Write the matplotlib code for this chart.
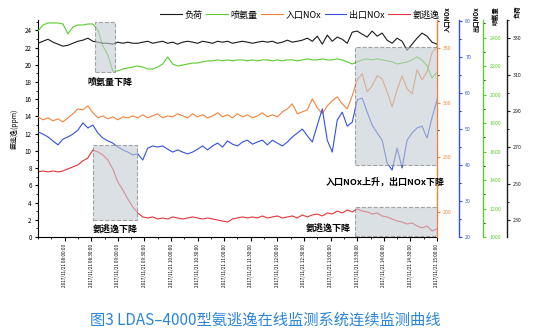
import numpy as np
import matplotlib
matplotlib.use('Agg')
import matplotlib.pyplot as plt
from matplotlib.patches import Rectangle
from matplotlib.ticker import MultipleLocator

plt.rcParams['font.family'] = ['Noto Sans CJK SC', 'DejaVu Sans']
plt.rcParams['axes.unicode_minus'] = False

# sampled every 0.1875 tick interval across 15 intervals
t = np.linspace(0, 15, 81)

load = [327.2, 328.3, 329.4, 327.8, 326.7, 325.6, 326.1, 327.2, 328.3, 328.9,
        330.0, 328.3, 327.8, 327.2, 327.2, 326.7, 327.8, 327.2, 327.8, 327.2,
        327.2, 327.8, 328.3, 327.2, 327.8, 328.3, 327.2, 327.8, 326.7, 327.8,
        328.3, 327.8, 327.2, 328.3, 327.8, 327.2, 328.3, 327.8, 328.3, 327.2,
        327.8, 328.3, 327.8, 327.2, 327.8, 328.3, 327.8, 328.3, 327.2, 327.8,
        328.9, 327.8, 328.3, 328.9, 330.0, 328.3, 331.1, 326.7, 331.7, 328.3,
        330.6, 329.4, 327.2, 333.3, 333.9, 332.2, 330.6, 333.9, 331.1, 332.8,
        328.9, 327.2, 330.0, 328.3, 323.4, 326.7, 330.0, 332.8, 331.1, 327.8,
        326.7]

nh3_flow = [2446, 2488, 2502, 2502, 2502, 2495, 2425, 2474, 2488, 2488,
            2495, 2495, 2453, 2341, 2278, 2165, 2165, 2179, 2186, 2193,
            2200, 2193, 2179, 2179, 2193, 2214, 2264, 2214, 2200, 2207,
            2214, 2221, 2221, 2229, 2236, 2236, 2243, 2236, 2243, 2236,
            2243, 2243, 2236, 2243, 2236, 2243, 2243, 2236, 2243, 2236,
            2243, 2243, 2236, 2243, 2250, 2243, 2243, 2250, 2243, 2243,
            2250, 2243, 2229, 2214, 2229, 2243, 2250, 2243, 2250, 2243,
            2236, 2229, 2214, 2221, 2229, 2243, 2264, 2243, 2200, 2116,
            2158]

nox_in = [287.0, 284.3, 286.1, 283.4, 285.2, 282.4, 286.1, 289.8, 294.3, 293.4,
          297.1, 290.7, 286.1, 287.9, 285.2, 287.0, 284.3, 287.0, 286.1, 287.9,
          286.1, 288.9, 286.1, 287.9, 289.8, 286.1, 287.9, 287.0, 289.8, 287.9,
          286.1, 289.8, 287.0, 288.9, 286.1, 287.9, 290.7, 287.0, 288.9, 286.1,
          289.8, 287.0, 288.9, 286.1, 287.9, 290.7, 287.0, 288.9, 287.0, 291.6,
          294.3, 298.9, 289.8, 291.6, 293.4, 303.5, 295.3, 289.8, 297.1, 301.7,
          305.3, 298.9, 294.3, 306.3, 320.9, 326.4, 309.9, 315.4, 324.6, 321.8,
          309.9, 296.2, 311.8, 324.6, 312.7, 308.1, 330.1, 320.9, 328.2, 345.6,
          351.1]

nox_out = [49.2, 48.6, 47.8, 46.7, 45.6, 47.2, 47.8, 48.6, 49.7, 51.7,
           50.3, 51.1, 48.9, 47.5, 46.7, 46.1, 45.0, 44.2, 43.6, 42.8,
           43.1, 41.4, 44.7, 45.3, 45.0, 45.3, 44.4, 43.6, 44.2, 43.6,
           43.1, 43.6, 44.4, 45.3, 44.2, 45.3, 46.1, 45.0, 46.7, 45.8,
           45.3, 46.4, 46.9, 45.8, 46.4, 46.9, 45.6, 46.9, 46.1, 45.3,
           46.4, 47.8, 48.9, 50.0, 48.1, 46.4, 51.1, 55.6, 46.9, 43.6,
           52.5, 54.7, 50.8, 51.9, 58.1, 58.6, 54.7, 51.1, 48.9, 46.9,
           40.6, 38.6, 44.7, 39.2, 46.9, 48.9, 50.3, 50.8, 47.5, 53.1,
           58.1]

slip = [7.56, 7.67, 7.56, 7.67, 7.56, 7.67, 7.91, 8.14, 8.37, 8.84,
        9.19, 10.1, 9.88, 9.53, 8.95, 7.91, 6.40, 5.47, 4.42, 3.49,
        2.79, 2.33, 2.21, 2.33, 2.09, 2.21, 2.09, 2.33, 2.21, 2.09,
        2.21, 2.33, 2.21, 2.09, 2.21, 2.09, 1.98, 1.86, 1.74, 2.09,
        2.21, 2.33, 2.21, 2.33, 2.21, 2.44, 2.21, 2.33, 2.44, 2.21,
        2.33, 2.44, 2.21, 2.56, 2.33, 2.56, 2.67, 2.44, 2.79, 2.67,
        3.02, 2.79, 3.14, 2.91, 3.26, 3.02, 2.91, 2.67, 2.79, 2.44,
        2.33, 2.09, 1.86, 1.74, 1.51, 1.63, 1.28, 1.05, 1.28, 0.70,
        0.93]

time_labels = ['2017/11/21 08:00:00', '2017/11/21 08:30:00', '2017/11/21 09:00:00',
               '2017/11/21 09:30:00', '2017/11/21 10:00:00', '2017/11/21 10:30:00',
               '2017/11/21 11:00:00', '2017/11/21 11:30:00', '2017/11/21 12:00:00',
               '2017/11/21 12:30:00', '2017/11/21 13:00:00', '2017/11/21 13:30:00',
               '2017/11/21 14:00:00', '2017/11/21 14:30:00', '2017/11/21 15:00:00']

c_load = '#1a1a1a'
c_flow = '#5ccc2e'
c_in = '#f5823c'
c_out = '#3350e0'
c_slip = '#e8343a'

fig = plt.figure(figsize=(5.38, 3.36), dpi=100)
ax = fig.add_axes([38 / 538, 1 - 237 / 336, 399 / 538, 217 / 336])

ax.set_xlim(0, 15)
ax.set_ylim(0, 25.2)
ax.set_yticks(range(0, 25, 2))
ax.yaxis.set_minor_locator(MultipleLocator(1))
ax.set_xticks(range(1, 16))
ax.set_xticklabels(time_labels, rotation=90, fontsize=3.3)
ax.xaxis.set_minor_locator(MultipleLocator(0.5))
ax.tick_params(axis='y', labelsize=4.5, length=2.5, width=0.8, pad=2)
ax.tick_params(axis='x', length=3, width=0.8, pad=2)
ax.tick_params(which='minor', length=1.5, width=0.6)
ax.spines['top'].set_visible(False)
ax.spines['right'].set_visible(False)
ax.set_ylabel('氨逃逸(ppm)', fontsize=5, labelpad=4)


def twin(pos, color, lo, hi, major, minor):
    a = ax.twinx()
    for s in ['top', 'left', 'bottom']:
        a.spines[s].set_visible(False)
    a.spines['right'].set_position(('axes', pos))
    a.spines['right'].set_color(color)
    a.spines['right'].set_linewidth(1.0)
    a.set_ylim(lo, hi)
    a.yaxis.set_major_locator(MultipleLocator(major))
    a.yaxis.set_minor_locator(MultipleLocator(minor))
    a.tick_params(axis='y', colors=color, labelsize=3.8, length=2.5, width=0.8, pad=2)
    a.tick_params(axis='y', which='minor', length=1.5, width=0.6)
    return a


ax_in = twin(1.0, c_in, 177.1, 375.6, 50, 25)
ax_out = twin(1.055, c_out, 20, 80.3, 10, 5)
ax_flow = twin(1.116, c_flow, 1000, 2523, 200, 100)
ax_load = twin(1.175, c_load, 220.6, 340, 20, 10)
ax_flow.set_yticks(range(1000, 2401, 200))
ax_load.set_yticks(range(230, 331, 20))

l_slip, = ax.plot(t, slip, color=c_slip, lw=0.8)
l_in, = ax_in.plot(t, nox_in, color=c_in, lw=0.8)
l_out, = ax_out.plot(t, nox_out, color=c_out, lw=0.8)
l_flow, = ax_flow.plot(t, nh3_flow, color=c_flow, lw=0.8)
l_load, = ax_load.plot(t, load, color=c_load, lw=0.8)

# shaded event windows, drawn on the top-most axes in left-axis coordinates
windows = [(2.14, 19.2, 0.76, 5.8),
           (2.07, 1.98, 1.65, 8.72),
           (11.92, 8.37, 3.08, 13.73),
           (11.92, 0.12, 3.08, 3.37)]
for x0, y0, w, h in windows:
    ax_load.add_patch(Rectangle((x0, y0), w, h, transform=ax.transData,
                                facecolor='#c3ccd2', alpha=0.6,
                                edgecolor='#707070', linestyle='--', lw=0.8,
                                zorder=5))

notes = [(2.72, 17.9, '喷氨量下降'),
         (2.9, 0.95, '氨逃逸下降'),
         (13.05, 6.35, '入口NOx上升，出口NOx下降'),
         (10.9, 1.05, '氨逃逸下降')]
for x, y, s in notes:
    ax_load.text(x, y, s, transform=ax.transData, ha='center', va='center',
                 fontsize=6.5, fontweight='bold', zorder=6)

# vertical titles above the right-hand axes
for xp, s in [(447, '入口NOx'), (476, '出口NOx'), (495, '喷氨量'), (517, '负荷')]:
    fig.text(xp / 538, 1 - 6 / 336, s, rotation=90, ha='center', va='top',
             fontsize=4.5, fontweight='bold')

fig.legend([l_load, l_flow, l_in, l_out, l_slip],
           ['负荷', '喷氨量', '入口NOx', '出口NOx', '氨逃逸'],
           loc='center', bbox_to_anchor=(300 / 538, 1 - 15 / 336), ncol=5,
           frameon=False, fontsize=6.5, handlelength=2.4, handletextpad=0.3,
           columnspacing=0.4, borderpad=0)

fig.text(0.493, 0.048, '图3 LDAS–4000型氨逃逸在线监测系统连续监测曲线',
         ha='center', va='center', fontsize=11, color='#2b86d8')

fig.savefig('out.png', dpi=100)
